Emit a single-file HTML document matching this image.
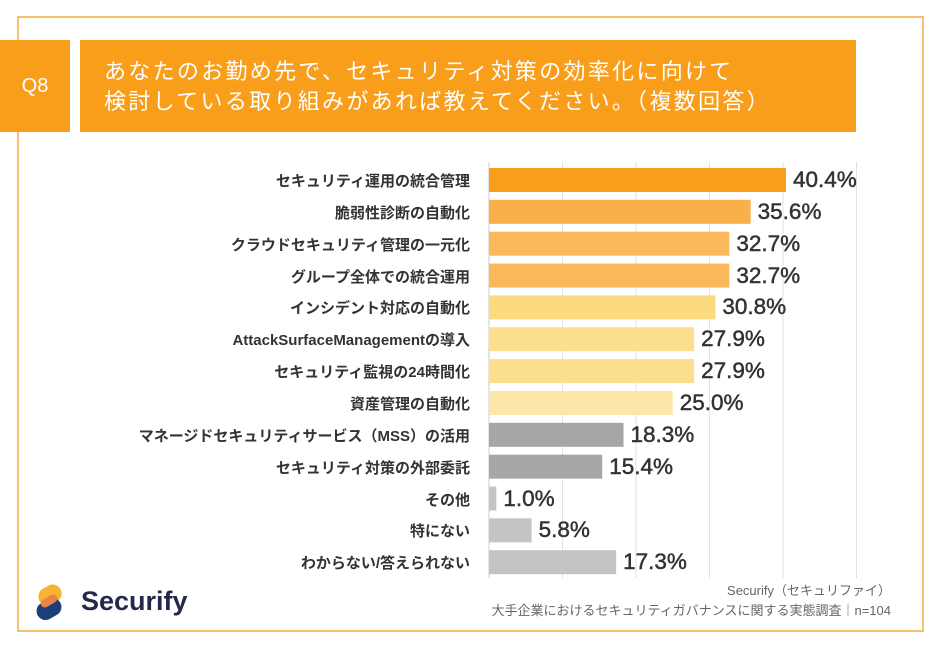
<!DOCTYPE html>
<html><head><meta charset="utf-8">
<style>
body{margin:0;width:941px;height:650px;background:#fff;position:relative;overflow:hidden;font-family:"Liberation Sans","Noto Sans CJK JP",sans-serif;}
.frame{position:absolute;left:17px;top:16px;width:907px;height:616px;border:2px solid #F7C070;box-sizing:border-box;}
.q8{position:absolute;left:0;top:40px;width:70px;height:92px;background:#F89E1B;color:#fff;font-size:20px;display:flex;align-items:center;justify-content:center;}
.title{position:absolute;left:80px;top:40px;width:776px;height:92px;background:#F89E1B;color:#fff;font-size:22px;line-height:30px;box-sizing:border-box;padding:17px 0 0 24px;letter-spacing:2.3px;}
.lbl{position:absolute;right:471px;font-size:15px;color:#333;text-align:right;white-space:nowrap;font-weight:bold;}
.val{position:absolute;font-size:22.5px;color:#333;white-space:nowrap;-webkit-text-stroke:0.5px #333;}
.foot{position:absolute;right:50px;font-size:13px;color:#666;white-space:nowrap;}
</style></head><body>
<div class="frame"></div>
<div class="q8">Q8</div>
<div class="title">あなたのお勤め先で、セキュリティ対策の効率化に向けて<br>検討している取り組みがあれば教えてください。（複数回答）</div>
<svg id="chart" width="941" height="650" style="position:absolute;left:0;top:0"></svg>
<div id="labels"></div>
<div class="foot" style="top:580px">Securify（セキュリファイ）</div>
<div class="foot" style="top:600px">大手企業におけるセキュリティガバナンスに関する実態調査｜n=104</div>
<svg style="position:absolute;left:30px;top:580px" width="45" height="50">
<rect x="8" y="6" width="24" height="18" rx="9" transform="rotate(-30 20 15)" fill="#F9B233"/>
<rect x="6" y="20" width="26" height="18" rx="9" transform="rotate(-30 19 29)" fill="#1C3F7A"/>
<rect x="10" y="17" width="18" height="8" rx="4" transform="rotate(-30 19 21)" fill="#E8834A"/>
</svg>
<div style="position:absolute;left:81px;top:586px;font-size:27px;color:#22294A;font-weight:bold">Securify</div>
<script>
const categories=["セキュリティ運用の統合管理","脆弱性診断の自動化","クラウドセキュリティ管理の一元化","グループ全体での統合運用","インシデント対応の自動化","AttackSurfaceManagementの導入","セキュリティ監視の24時間化","資産管理の自動化","マネージドセキュリティサービス（MSS）の活用","セキュリティ対策の外部委託","その他","特にない","わからない/答えられない"];
const values=[40.4,35.6,32.7,32.7,30.8,27.9,27.9,25.0,18.3,15.4,1.0,5.8,17.3];
const colors=["#F89E1B","#F9B04A","#F9B85A","#F9B85A","#FBDA80","#FBDF8C","#FBDF8C","#FCE7A8","#A6A6A6","#A6A6A6","#C4C4C4","#C4C4C4","#C4C4C4"];
const gridTicks=[0,10,20,30,40,50];
const X0=489,PX=7.35,Y0=168,STEP=31.85,BH=24;
const xs=v=>X0+v*PX, ys=i=>Y0+i*STEP;
const svg=document.getElementById('chart');const NS='http://www.w3.org/2000/svg';
gridTicks.forEach(t=>{const l=document.createElementNS(NS,'line');


l.setAttribute('x1',xs(t));l.setAttribute('x2',xs(t));l.setAttribute('y1',162);l.setAttribute('y2',578);
l.setAttribute('stroke',t===0?'#ccc':'#e2e2e2');l.setAttribute('stroke-width',1);svg.appendChild(l);});
const lab=document.getElementById('labels');
values.forEach((v,i)=>{const r=document.createElementNS(NS,'rect');


r.setAttribute('x',X0);r.setAttribute('y',ys(i));r.setAttribute('width',xs(v)-X0);r.setAttribute('height',BH);r.setAttribute('fill',colors[i]);svg.appendChild(r);
const c=document.createElement('div');c.className='lbl';c.style.top=(ys(i)+2)+'px';c.textContent=categories[i];


lab.appendChild(c);
const d=document.createElement('div');d.className='val';d.style.left=(xs(v)+7)+'px';d.style.top=(ys(i)-1)+'px';d.textContent=v.toFixed(1)+'%';


lab.appendChild(d);});
</script>
</body></html>
